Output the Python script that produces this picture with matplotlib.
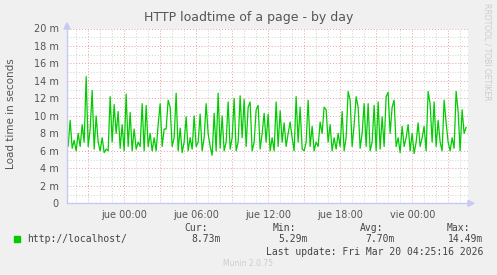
import matplotlib.pyplot as plt
import numpy as np

# load time in milliseconds, one value per 10 minutes
load_ms = [
    7.5, 6.5, 9.5, 6.3, 7.2, 6.0, 8.0, 6.5, 9.0, 7.0, 14.5, 6.5, 8.5, 12.9, 6.2, 10.0, 7.0,
    6.0, 7.5, 5.8, 6.2, 6.0, 12.2, 7.0, 11.3, 8.0, 10.5, 6.3, 9.0, 6.0, 12.5, 6.5, 10.4,
    6.0, 8.5, 6.2, 7.0, 6.5, 11.4, 6.0, 11.2, 6.5, 8.0, 6.0, 7.5, 6.0, 9.0, 11.4, 6.5, 8.5,
    8.5, 11.8, 11.0, 6.5, 7.5, 12.6, 6.0, 8.6, 5.8, 7.0, 9.9, 6.0, 7.5, 6.2, 10.0, 6.5, 7.0,
    10.2, 6.0, 7.5, 11.4, 8.0, 6.5, 5.5, 10.3, 6.0, 12.6, 6.3, 10.0, 6.0, 7.0, 11.6, 6.2,
    7.5, 12.0, 6.0, 7.0, 12.3, 7.5, 11.9, 6.5, 11.0, 11.6, 6.0, 7.0, 10.7, 11.2, 6.2, 8.0, 10.3,
    7.0, 10.2, 6.0, 7.5, 6.0, 11.6, 6.5, 10.6, 7.0, 9.2, 6.5, 8.0, 9.3, 7.5, 6.0, 12.2, 7.0,
    11.0, 6.2, 6.0, 7.0, 11.8, 6.5, 8.8, 6.0, 7.0, 6.5, 9.3, 8.0, 11.0, 10.7, 7.0, 9.0, 6.0,
    7.5, 6.2, 8.0, 6.5, 10.5, 6.0, 7.5, 12.8, 11.8, 6.5, 9.0, 12.2, 11.0, 6.3, 8.0, 11.4,
    6.5, 11.4, 6.0, 7.0, 11.2, 6.0, 11.6, 6.2, 9.9, 6.5, 12.2, 12.7, 8.0, 11.0, 11.8, 6.5,
    7.5, 5.8, 8.8, 6.5, 7.5, 9.0, 6.0, 8.0, 5.7, 7.0, 9.2, 6.5, 7.5, 8.8, 6.0, 12.8, 11.4,
    7.0, 11.6, 6.5, 9.5, 7.0, 6.0, 11.8, 9.2, 7.0, 6.0, 7.5, 6.3, 12.8, 10.5, 6.0, 10.7, 8.0, 8.7,
]
start_hour = -4.85  # hours relative to "jue 00:00"
tick_hours = [0, 6, 12, 18, 24]
tick_labels = ["jue 00:00", "jue 06:00", "jue 12:00", "jue 18:00", "vie 00:00"]
y_ticks = [0, 2, 4, 6, 8, 10, 12, 14, 16, 18, 20]
y_labels = ["0"] + ["%d m" % v for v in y_ticks[1:]]

series_name = "http://localhost/"
stat_names = ["Cur:", "Min:", "Avg:", "Max:"]
stat_values = ["8.73m", "5.29m", "7.70m", "14.49m"]
last_update = "Last update: Fri Mar 20 04:25:16 2026"

W, H = 497, 275
fig = plt.figure(figsize=(W / 100, H / 100), dpi=100, facecolor="#f0f0f0")
ax = fig.add_axes([67 / W, 1 - 203.3 / H, 401 / W, (203.3 - 28.5) / H])
ax.set_facecolor("white")

t = start_hour + np.arange(len(load_ms)) / 6.0
ax.set_xlim(-4.78, 28.64)
ax.set_ylim(0, 20)

# grid: gray every hour / 1 m, red every 3 h / 2 m
for h in np.arange(-4, 29, 1):
    major = h % 3 == 0
    ax.axvline(h, color="#e8a0a0" if major else "#d0d0d0", lw=0.7, ls=(0, (1, 2)), zorder=1)
for v in range(1, 21):
    major = v % 2 == 0
    ax.axhline(v, color="#e8a0a0" if major else "#d0d0d0", lw=0.7, ls=(0, (1, 2)), zorder=1)

ax.plot(t, load_ms, color="#00cc00", lw=0.9, zorder=3)

for s in ax.spines.values():
    s.set_visible(False)
ax.axhline(0, color="#c8c8f4", lw=1, zorder=4, clip_on=False)
ax.axvline(-4.78, color="#c8c8f4", lw=1, zorder=4, clip_on=False)
# axis arrows
fig.patches.append(plt.Polygon([[64 / W, 1 - 29 / H], [70 / W, 1 - 29 / H], [67 / W, 1 - 23 / H]],
                               closed=True, color="#c8c8f4", transform=fig.transFigure))
fig.patches.append(plt.Polygon([[468 / W, 1 - 200.3 / H], [468 / W, 1 - 206.3 / H], [474 / W, 1 - 203.3 / H]],
                               closed=True, color="#c8c8f4", transform=fig.transFigure))

ax.set_xticks(tick_hours)
ax.set_xticklabels(tick_labels)
ax.set_xticks(np.arange(-4, 29, 1), minor=True)
ax.set_yticks(y_ticks)
ax.set_yticklabels(y_labels)
ax.tick_params(axis="both", which="both", labelsize=7, colors="#555555", length=0, pad=4)
ax.tick_params(axis="x", which="major", pad=5)
ax.tick_params(axis="y", pad=6)

fig.text(249 / W, 1 - 18 / H, "HTTP loadtime of a page - by day", ha="center", va="center",
         fontsize=9, color="#555555")
fig.text(11 / W, 1 - 114 / H, "Load time in seconds", rotation=90, ha="center", va="center",
         fontsize=7.5, color="#555555")
fig.text(487 / W, 1 - 52 / H, "RRDTOOL / TOBI OETIKER", rotation=270, ha="center", va="center",
         fontsize=5.5, color="#cccccc")
fig.text(248 / W, 1 - 264 / H, "Munin 2.0.75", ha="center", va="center", fontsize=5.5, color="#cccccc")

mono = "DejaVu Sans Mono"
fig.patches.append(plt.Rectangle((14 / W, 1 - 242 / H), 6 / W, 6 / H, color="#00cc00",
                                 transform=fig.transFigure))
fig.text(27 / W, 1 - 239.3 / H, series_name, ha="left", va="center", fontsize=7,
         family=mono, color="#444444")
name_right = [208, 296, 383, 470]
value_right = [221, 308, 395, 483]
for nm, val, nx, vx in zip(stat_names, stat_values, name_right, value_right):
    fig.text(nx / W, 1 - 227.7 / H, nm, ha="right", va="center", fontsize=7, family=mono, color="#444444")
    fig.text(vx / W, 1 - 239.3 / H, val, ha="right", va="center", fontsize=7, family=mono, color="#444444")
fig.text(483 / W, 1 - 251.7 / H, last_update, ha="right", va="center", fontsize=7,
         family=mono, color="#444444")

fig.savefig("out.png", dpi=100, facecolor=fig.get_facecolor())
